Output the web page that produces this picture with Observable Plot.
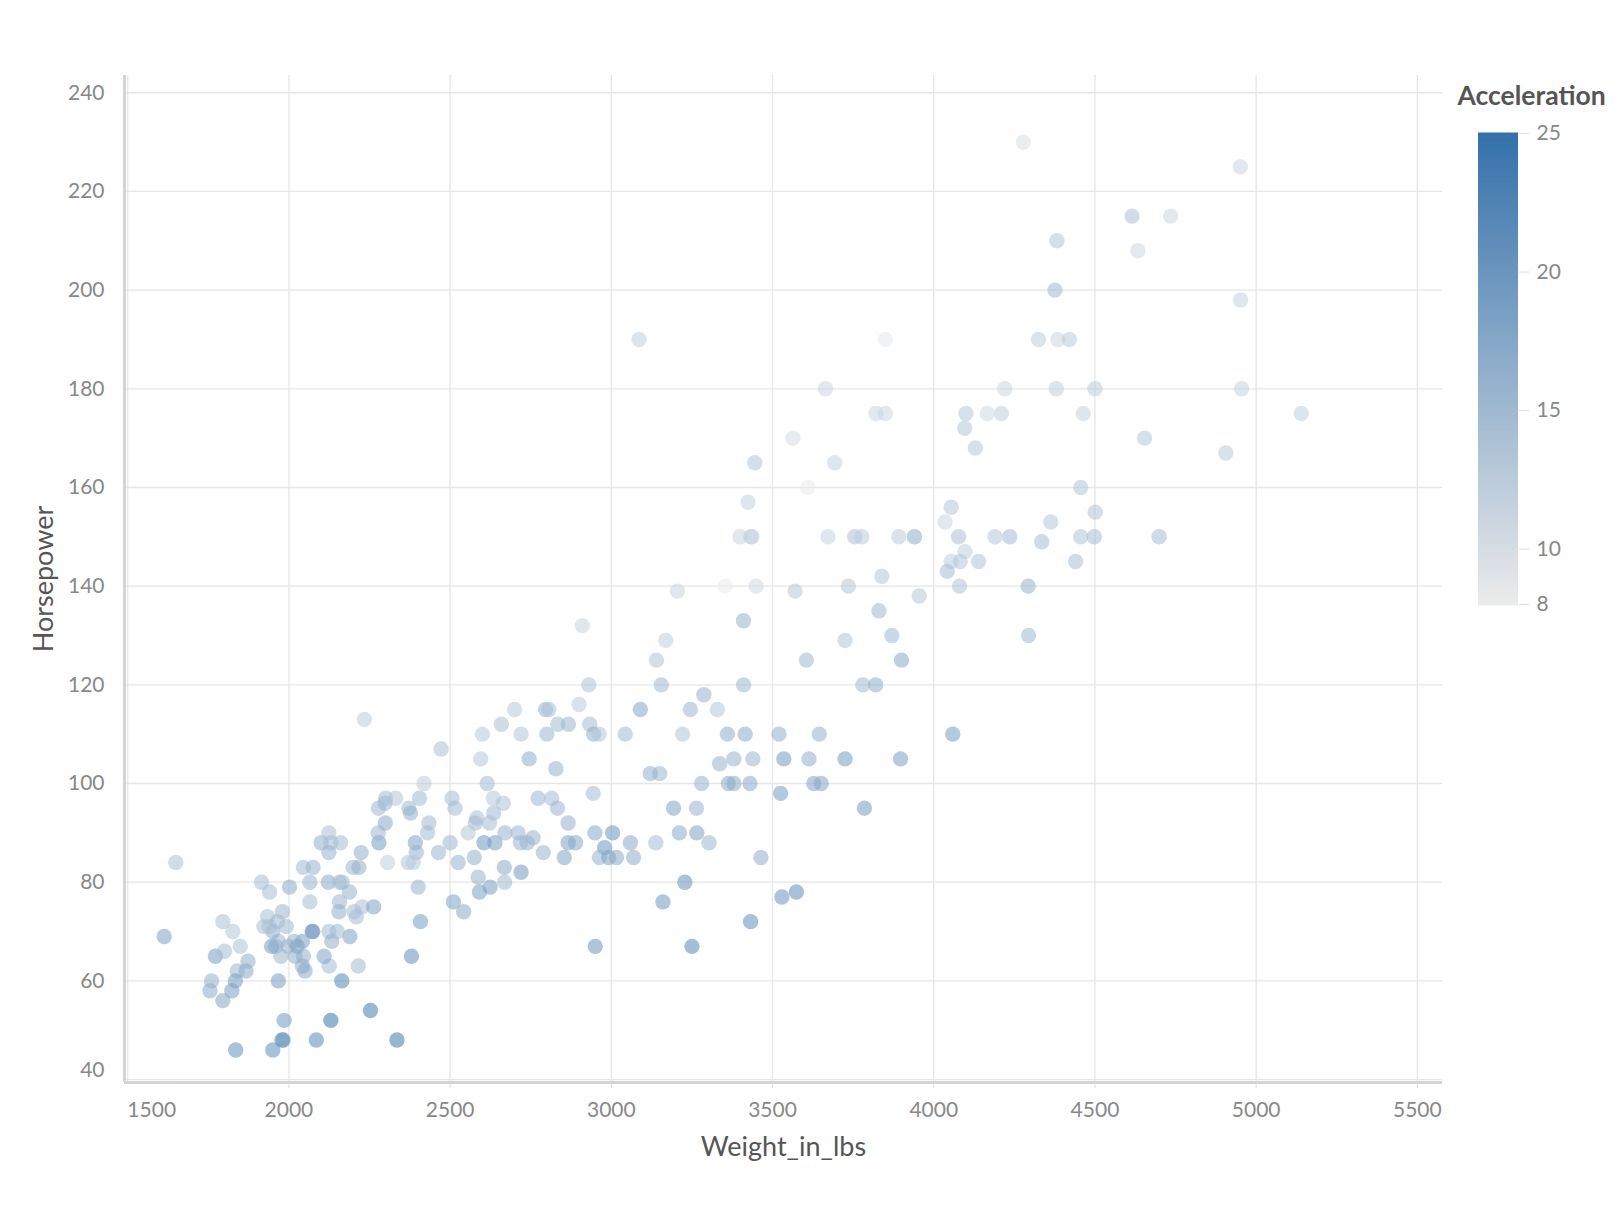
<!DOCTYPE html>
<html><head><meta charset="utf-8">
<script src="https://cdn.jsdelivr.net/npm/d3@7"></script>
<script src="https://cdn.jsdelivr.net/npm/@observablehq/plot@0.6"></script>
<style>
body{margin:0;background:#fff;font-family:Lato,"Noto Sans",sans-serif;}
#wrap{position:relative;width:1624px;height:1216px;overflow:hidden;}
#legend{position:absolute;left:1440px;top:0px;}
svg{overflow:visible;}
</style></head><body><div id="wrap"><div id="main"></div><div id="legend"></div></div>
<script>
const weight = [
2910,2234,2930,2700,2796,2806,2900,2659,2600,2720,2800,2834,2867,2933,2945,2962,2472,2595,2745,
3424,3609,3399,3436,3433,3672,3755,3777,3892,3940,3940,3205,3353,3449,3570,3735,3839,3955,3410,3830,3870,3725,3169,3140,3605,3900,3155,3410,3780,3820,3090,3287,3245,3329,3043,3221,3360,3415,3520,3645,3380,3439,3535,3613,3725,3897,
3086,3850,3664,3821,3850,4100,4166,4096,4129,3563,3693,3445,
4278,4951,4615,4735,4382,4633,4376,4952,4325,4385,4421,4220,4380,4500,4955,4210,4464,5140,4654,4906,4456,
4054,4035,4077,4097,4054,4082,4042,4080,4190,4236,4139,4335,4363,4456,4498,4501,4440,4699,4293,4294,4059,
2828,3121,3150,2419,2615,2944,3280,2405,2506,2515,2634,2665,2635,2773,2815,2833,2866,2434,2430,2583,2578,2622,2556,2670,2711,2757,2739,2718,2639,2605,2500,2464,2392,2395,2370,2386,2525,2575,2668,2587,2720,2789,2854,2866,2889,2949,3004,2979,2963,2992,3016,3069,3059,3138,3193,3211,3264,3265,3336,3363,3380,3430,3628,3651,3525,3785,3303,3464,3529,3574,3432,
2401,2510,2542,2591,2624,2669,2408,2380,2950,3160,3228,3250,2335,
1649,1915,1940,2002,2045,2075,2065,2122,2157,2165,2188,2100,2124,2130,2160,2124,2224,2199,2217,2306,2279,2277,2299,2278,2298,2300,2331,2372,2377,
1613,1795,1826,1772,1800,1849,1873,1840,1867,1834,1760,1755,1795,1823,1967,1985,1982,1978,1950,1835,2085,2130,2253,2164,2215,2125,2109,2045,2042,2050,2019,1975,1997,1959,1946,1967,1950,1938,1922,1934,1980,1964,1992,2065,2157,2155,2202,2227,2263,2209,2189,2124,2133,2150,2072,2074,2042,2016,2026
];
const horsepower = [
132,113,120,115,115,115,116,112,110,110,110,112,112,112,110,110,107,105,105,
157,160,150,150,150,150,150,150,150,150,150,139,140,140,139,140,142,138,133,135,130,129,129,125,125,125,120,120,120,120,115,118,115,115,110,110,110,110,110,110,105,105,105,105,105,105,
190,190,180,175,175,175,175,172,168,170,165,165,
230,225,215,215,210,208,200,198,190,190,190,180,180,180,180,175,175,175,170,167,160,
156,153,150,147,145,145,143,140,150,150,145,149,153,150,150,155,145,150,140,130,110,
103,102,102,100,100,98,100,97,97,95,97,96,94,97,97,95,92,92,90,93,92,92,90,90,90,89,88,88,88,88,88,86,88,86,84,84,84,85,83,81,82,86,85,88,88,90,90,87,85,85,85,85,88,88,95,90,95,90,104,100,100,100,100,100,98,95,88,85,77,78,72,
79,76,74,78,79,80,72,65,67,76,80,67,48,
84,80,78,79,83,83,80,80,80,80,78,88,90,88,88,86,86,83,83,84,88,90,92,95,96,97,97,95,94,
69,72,70,65,66,67,64,62,62,60,60,58,56,58,60,52,48,48,46,46,48,52,54,60,63,63,65,65,63,62,65,65,67,67,67,68,70,71,71,73,74,72,71,76,76,74,74,75,75,73,69,70,68,70,70,70,68,68,67
];
const acceleration = [
11.4,12.5,13.8,12.9,15.7,14,12.6,14,12.8,13.5,15.4,14.7,15.5,14.5,16.4,13.5,14,13,16.7,
11.5,8,11,11,12,11.5,14,12.5,12.5,13.2,13,11.2,8,10.5,12.8,13.2,13,13.2,15.8,15.2,15,13.4,12,13.6,15,17.4,15,15.1,15,16.7,17.5,16,15.4,13,15,13.5,16.6,17,16.4,16.2,15.8,15.5,19.2,16.5,19,18.5,
12,8.5,11,11,11,13,10.5,13,13,10,11.5,13.4,
9.5,11,14,11,13.5,11,15,11.5,12.2,11,12.5,11.1,12.1,12.5,11.5,12,11.5,12,13,12.5,13.5,
13,11,14,12,12,13,14.5,13.7,13,14.5,13.7,14.5,13,13.5,14.5,13.5,14,14.5,16,14.9,19,
15.9,16.5,15.7,12.5,14.8,14.5,16,14.9,14.5,14.8,13,13.9,15,15.5,14.5,15.5,16.4,15,14.5,14,14.9,14.4,13.2,16,15.5,15.8,16,15.4,18.6,19.6,15.1,15.5,18,16,13,12.9,16,16.2,17,16,19.4,15.6,17.6,18.1,17.3,17.3,20.1,19.5,15.8,18.2,17,16.7,17.1,14.5,17.8,17,16,18.2,16,17,17,17.2,17.7,17.7,19,19,15.5,16.6,20.1,21,21,
16,18,17,18.5,18.6,15,19,20.7,19.9,19.6,20.4,21.8,23.7,
14,14.4,14.5,17,15,15.9,16,17,14.8,15,15.8,16.5,14,14.5,14.5,16,16.5,15.3,16.5,12,19,15.5,17,15.5,15.5,14.7,13.5,15,16.5,
18,14,13,19,14.4,13.8,16.4,15.3,17,19,16.1,16.9,17.5,18.6,18.8,19.4,21.5,20,21,20.5,21.7,24.6,23.5,22.1,14.9,14.7,17.9,16.2,17,17.3,16.4,15.2,16.2,16,19,15.5,16.8,14.2,14,14,15.3,15,14.9,14.5,15.5,16.4,14,14,18.2,14.4,18,14.7,16.6,14.9,18.6,19.5,18.5,16,18
];
const xTicks = [1500,2000,2500,3000,3500,4000,4500,5000,5500];
const yTicks = [40,60,80,100,120,140,160,180,200,220,240];
const legendTicks = [8,10,15,20,25];

const cars = weight.map((w, i) => ({Weight_in_lbs: w, Horsepower: horsepower[i], Acceleration: acceleration[i]}));
const colorScale = {type: "linear", domain: [8, 25], range: ["#ebebeb", "#3571ab"], interpolate: "rgb"};
const tickColor = "#888";
const titleColor = "#555";
const font = "Lato, 'Noto Sans', sans-serif";
const tickFont = 21;
const fmt = d3.format("d");

const chart = Plot.plot({
  width: 1624, height: 1216,
  marginLeft: 124, marginRight: 182, marginTop: 75, marginBottom: 134,
  style: {fontFamily: font, fontSize: tickFont + "px", color: tickColor, background: "transparent"},
  x: {domain: [1490, 5578], label: null, tickFormat: "d"},
  y: {domain: [39.4, 243.5], label: null},
  color: colorScale,
  marks: [
    Plot.gridX(xTicks, {stroke: "#e6e6e6", strokeOpacity: 1, strokeWidth: 1.3}),
    Plot.gridY(yTicks, {stroke: "#e6e6e6", strokeOpacity: 1, strokeWidth: 1.3}),
    Plot.axisX(xTicks.slice(1), {tickSize: 6, tickPadding: 14, stroke: "#ddd", fill: tickColor, fontSize: tickFont, tickFormat: "d"}),
    Plot.text([xTicks[0]], {x: d => d, text: d => fmt(d), frameAnchor: "bottom", dy: 28, dx: 24, lineAnchor: "middle", textAnchor: "middle", fill: tickColor, fontSize: tickFont}),
    Plot.axisY(yTicks.slice(1), {tickSize: 0, tickPadding: 20, fill: tickColor, fontSize: tickFont}),
    Plot.text([yTicks[0]], {y: d => d, text: d => fmt(d), frameAnchor: "left", dx: -20, dy: -9, textAnchor: "end", lineAnchor: "middle", fill: tickColor, fontSize: tickFont}),
    Plot.ruleX([1490], {stroke: "#d4d4d4", strokeWidth: 3}),
    Plot.ruleY([39.4], {stroke: "#d4d4d4", strokeWidth: 3}),
    Plot.dot(cars, {x: "Weight_in_lbs", y: "Horsepower", fill: "Acceleration", r: 7.7, fillOpacity: 0.55, stroke: null}),
    Plot.text(["Weight_in_lbs"], {frameAnchor: "bottom", dy: 65, lineAnchor: "middle", textAnchor: "middle", fontSize: 27, fill: titleColor}),
    Plot.text(["Horsepower"], {frameAnchor: "left", dx: -80, rotate: -90, textAnchor: "middle", lineAnchor: "middle", fontSize: 27, fill: titleColor})
  ]
});
document.getElementById("main").appendChild(chart);

const steps = d3.range(8, 25.001, 0.05);
const legend = Plot.plot({
  width: 184, height: 650,
  marginLeft: 38, marginRight: 106, marginTop: 133, marginBottom: 46,
  style: {fontFamily: font, fontSize: "21px", color: tickColor, background: "transparent"},
  x: {axis: null, domain: [0, 1]},
  y: {domain: [8, 25], axis: null},
  color: colorScale,
  marks: [
    Plot.ruleY(steps, {y: d => d, stroke: d => d, strokeWidth: 2.2}),
    Plot.axisY(legendTicks, {anchor: "right", tickSize: 10, tickPadding: 8, stroke: "#ddd", fill: tickColor, fontSize: 21}),
    Plot.text(["Acceleration"], {frameAnchor: "top-left", dx: -21, dy: -37, textAnchor: "start", lineAnchor: "middle", fontSize: 26.5, fontWeight: "bold", fill: titleColor})
  ]
});
document.getElementById("legend").appendChild(legend);
</script></body></html>
